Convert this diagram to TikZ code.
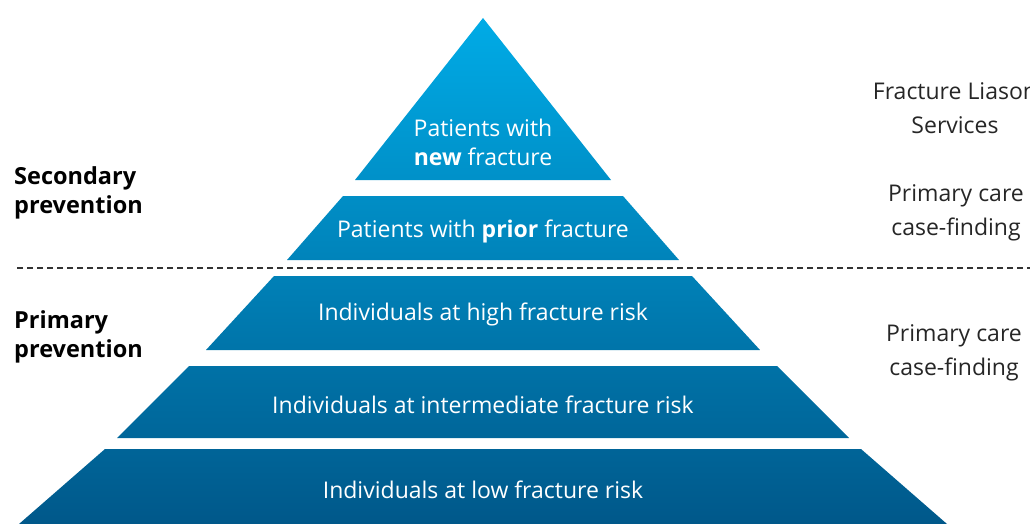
\documentclass[tikz,border=0pt]{standalone}
\usepackage{fontspec}
\setmainfont{Open Sans}
\usetikzlibrary{positioning}
\definecolor{pyrtop}{RGB}{0,171,230}
\definecolor{pyrbot}{RGB}{0,88,138}

\begin{document}
\begin{tikzpicture}[x=1pt,y=-1pt,
	tier/.style={white,font=\fontsize{23}{29}\selectfont,align=center,inner sep=0pt},
	side/.style={black!85,font=\fontsize{23}{34}\selectfont,align=center,inner sep=0pt},
	level/.style={black,font=\bfseries\fontsize{23.5}{29}\selectfont,align=left,anchor=west,inner sep=0pt}]
\clip (0,0) rectangle (1030,524);

% pyramid
\shade[top color=pyrtop,bottom color=pyrtop!68!pyrbot] (483,18) -- (611,180) -- (355,180) -- cycle;
\shade[top color=pyrtop!65!pyrbot,bottom color=pyrtop!52!pyrbot] (343,196) -- (623,196) -- (679,260) -- (287,260) -- cycle;
\shade[top color=pyrtop!49!pyrbot,bottom color=pyrtop!34!pyrbot] (274,276) -- (692,276) -- (760,350) -- (206,350) -- cycle;
\shade[top color=pyrtop!31!pyrbot,bottom color=pyrtop!17!pyrbot] (189,366) -- (777,366) -- (849,438) -- (117,438) -- cycle;
\shade[top color=pyrtop!15!pyrbot,bottom color=pyrbot] (105,449) -- (861,449) -- (947,524) -- (19,524) -- cycle;

\node[tier] (t1) at (483,142) {Patients with\\\textbf{new} fracture};
\node[tier] (t2) at (483,231) {Patients with \textbf{prior} fracture};
\node[tier] (t3) at (483,314) {Individuals at high fracture risk};
\node[tier] (t4) at (483,405) {Individuals at intermediate fracture risk};
\node[tier] (t5) at (483,490) {Individuals at low fracture risk};

% divider
\coordinate (divL) at (17,268);
\coordinate (divR) at (1030,268);
\draw[black!80,line width=1.2pt,dash pattern=on 6pt off 4pt] (divL) -- (divR);

\node[level] (sec) at (14,193) {Secondary\\prevention};
\node[level] (pri) at (14,337) {Primary\\prevention};

\node[side] (fls) at (955,108) {Fracture Liason\\Services};
\node[side] (pc1) at (956,213) {Primary care\\case-finding};
\node[side] (pc2) at (954,353) {Primary care\\case-finding};
\end{tikzpicture}
\end{document}
